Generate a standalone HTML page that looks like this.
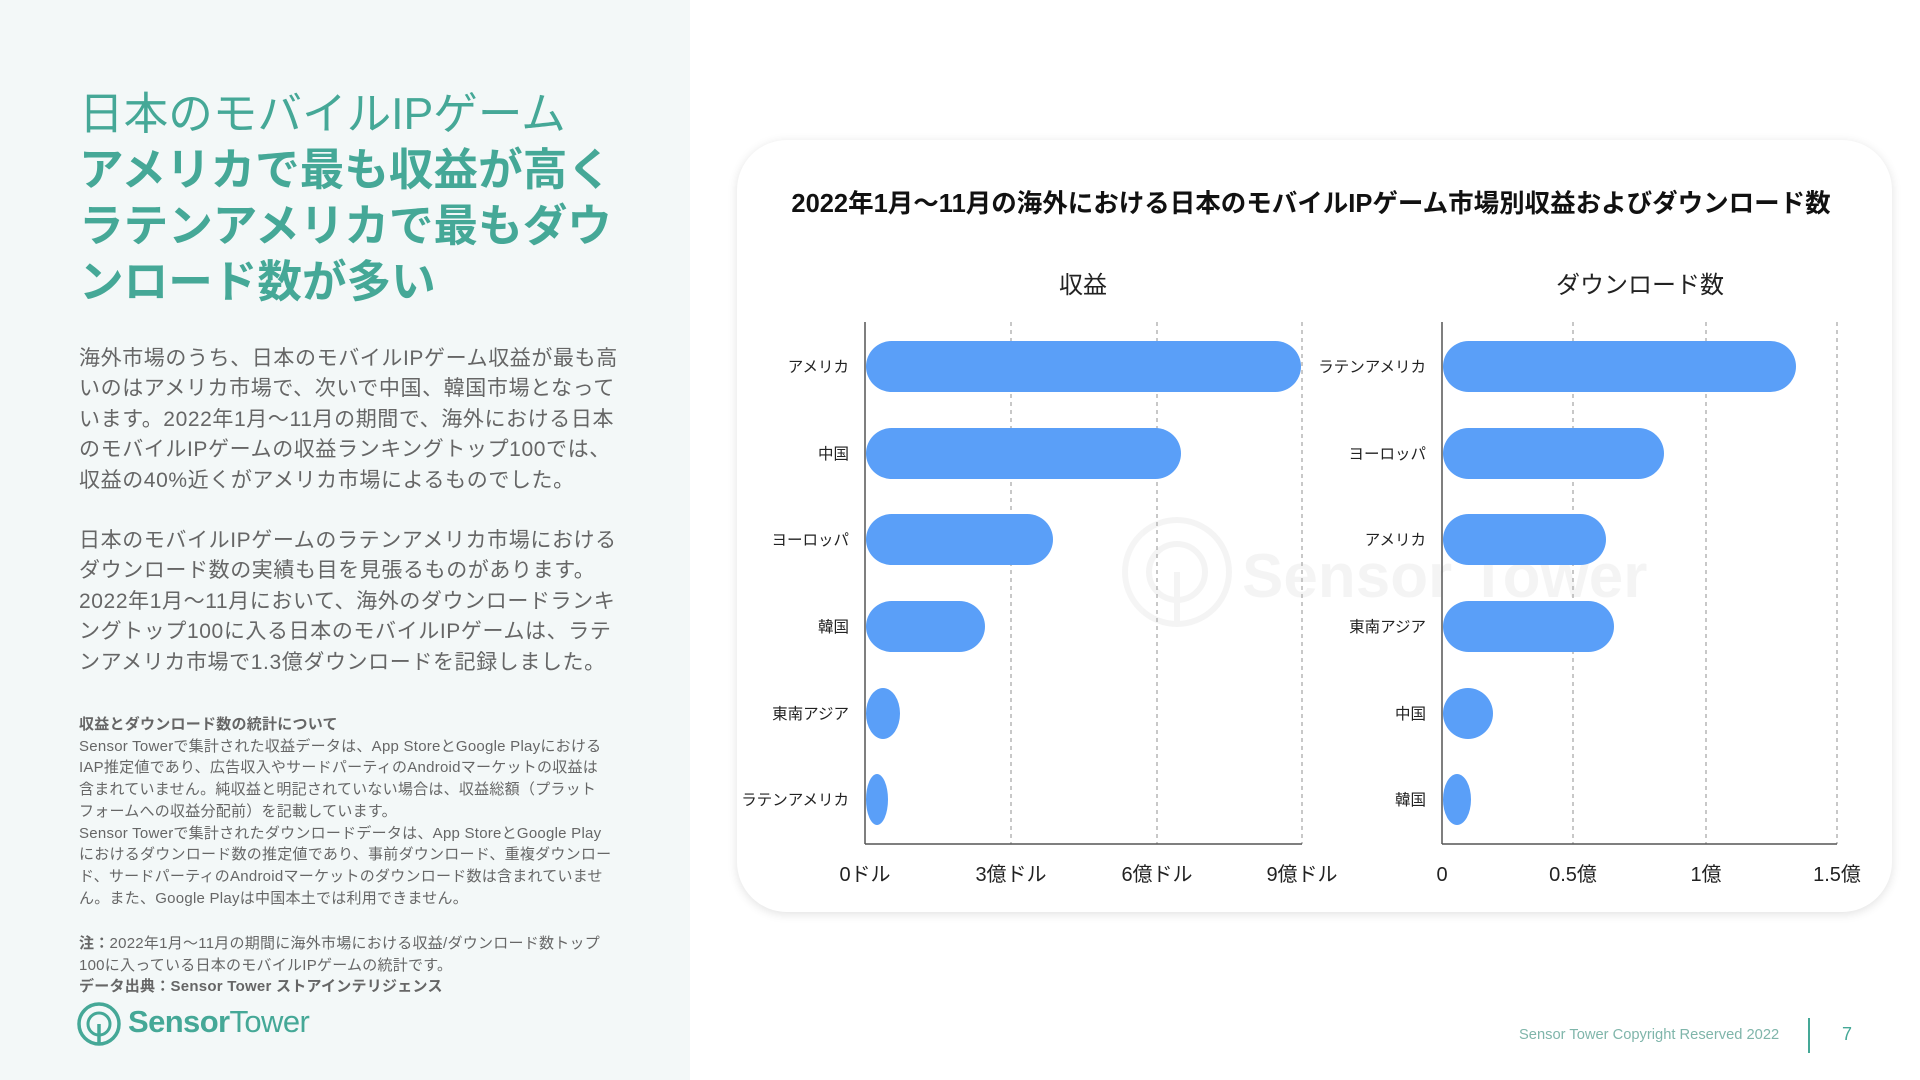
<!DOCTYPE html>
<html><head><meta charset="utf-8"><style>
html,body{margin:0;padding:0;width:1920px;height:1080px;overflow:hidden;background:#fff;font-family:"Liberation Sans","Noto Sans CJK JP",sans-serif;}
#left{position:absolute;left:0;top:0;width:690px;height:1080px;background:#f3f8f8;}
.t{position:absolute;white-space:nowrap;}
.h{color:#45a897;font-size:44.6px;left:79px;line-height:56px;}
.p{color:#666;font-size:21px;left:79px;letter-spacing:0.6px;line-height:30.4px;}
.n{color:#666;font-size:15px;left:79px;line-height:21.7px;letter-spacing:0.25px;}
#card{position:absolute;left:737px;top:140px;width:1155px;height:772px;border-radius:50px;background:#fff;box-shadow:0 2px 10px rgba(0,0,0,0.12);}
</style></head><body>
<div id="left"></div>
<div class="t h" style="top:87px;">日本のモバイルIPゲーム</div>
<div class="t h" style="top:143px;font-weight:bold;">アメリカで最も収益が高く<br>ラテンアメリカで最もダウ<br>ンロード数が多い</div>
<div class="t p" style="top:344px;">海外市場のうち、日本のモバイルIPゲーム収益が最も高<br>いのはアメリカ市場で、次いで中国、韓国市場となって<br>います。2022年1月～11月の期間で、海外における日本<br>のモバイルIPゲームの収益ランキングトップ100では、<br>収益の40%近くがアメリカ市場によるものでした。</div>
<div class="t p" style="top:526px;">日本のモバイルIPゲームのラテンアメリカ市場における<br>ダウンロード数の実績も目を見張るものがあります。<br>2022年1月～11月において、海外のダウンロードランキ<br>ングトップ100に入る日本のモバイルIPゲームは、ラテ<br>ンアメリカ市場で1.3億ダウンロードを記録しました。</div>
<div class="t n" style="top:714px;"><b>収益とダウンロード数の統計について</b><br>Sensor Towerで集計された収益データは、App StoreとGoogle Playにおける<br>IAP推定値であり、広告収入やサードパーティのAndroidマーケットの収益は<br>含まれていません。純収益と明記されていない場合は、収益総額（プラット<br>フォームへの収益分配前）を記載しています。<br>Sensor Towerで集計されたダウンロードデータは、App StoreとGoogle Play<br>におけるダウンロード数の推定値であり、事前ダウンロード、重複ダウンロー<br>ド、サードパーティのAndroidマーケットのダウンロード数は含まれていませ<br>ん。また、Google Playは中国本土では利用できません。</div>
<div class="t n" style="top:933px;"><b>注：</b>2022年1月～11月の期間に海外市場における収益/ダウンロード数トップ<br>100に入っている日本のモバイルIPゲームの統計です。<br><b>データ出典：Sensor Tower ストアインテリジェンス</b></div>
<svg class="t" style="left:76px;top:1000px;" width="50" height="50" viewBox="0 0 50 50"><circle cx="23" cy="24" r="20" fill="none" stroke="#45a897" stroke-width="3.5"/><circle cx="23" cy="24" r="11" fill="none" stroke="#45a897" stroke-width="3"/><line x1="23" y1="24" x2="23" y2="44" stroke="#45a897" stroke-width="3.5"/></svg>
<div class="t" style="left:128px;top:1004px;font-size:31px;color:#45a897;letter-spacing:-0.6px;"><b>Sensor</b>Tower</div>
<div class="t" style="left:1519px;top:1027px;font-size:14.7px;color:#7fb5aa;">Sensor Tower Copyright Reserved 2022</div>
<div class="t" style="left:1808px;top:1018px;width:2px;height:35px;background:#45a897;"></div>
<div class="t" style="left:1842px;top:1024px;font-size:18px;color:#45a897;">7</div>
<div id="card"></div>
<svg class="t" style="left:0;top:0;" width="1920" height="1080" viewBox="0 0 1920 1080" font-family="Liberation Sans, Noto Sans CJK JP, sans-serif">
<text x="1311" y="212" text-anchor="middle" font-size="25.5" font-weight="bold" fill="#111">2022年1月～11月の海外における日本のモバイルIPゲーム市場別収益およびダウンロード数</text>
<text x="1083" y="293" text-anchor="middle" font-size="24" fill="#222">収益</text>
<text x="1640" y="293" text-anchor="middle" font-size="24" fill="#222">ダウンロード数</text>
<g opacity="0.04" fill="none" stroke="#000" stroke-width="6"><circle cx="1177" cy="572" r="52"/><circle cx="1177" cy="572" r="28"/><line x1="1177" y1="572" x2="1177" y2="624"/></g>
<text x="1242" y="597" font-size="62" font-weight="bold" fill="#000" opacity="0.04">Sensor Tower</text>
<g stroke="#aaa" stroke-width="1.3" stroke-dasharray="4,4">
<line x1="1011" y1="322" x2="1011" y2="844"/><line x1="1157" y1="322" x2="1157" y2="844"/><line x1="1302" y1="322" x2="1302" y2="844"/>
<line x1="1573" y1="322" x2="1573" y2="844"/><line x1="1706" y1="322" x2="1706" y2="844"/><line x1="1837" y1="322" x2="1837" y2="844"/>
</g>
<g stroke="#555" stroke-width="1.5"><line x1="865" y1="322" x2="865" y2="844"/><line x1="865" y1="844" x2="1302" y2="844"/><line x1="1442" y1="322" x2="1442" y2="844"/><line x1="1442" y1="844" x2="1837" y2="844"/></g>
<g fill="#5a9ff8">
<rect x="866" y="341" width="435" height="51" rx="25.5"/>
<rect x="866" y="428" width="315" height="51" rx="25.5"/>
<rect x="866" y="514" width="187" height="51" rx="25.5"/>
<rect x="866" y="601" width="119" height="51" rx="25.5"/>
<rect x="866" y="688" width="34" height="51" rx="17" ry="25.5"/>
<rect x="866" y="774" width="22" height="51" rx="11" ry="25.5"/>
<rect x="1443" y="341" width="353" height="51" rx="25.5"/>
<rect x="1443" y="428" width="221" height="51" rx="25.5"/>
<rect x="1443" y="514" width="163" height="51" rx="25.5"/>
<rect x="1443" y="601" width="171" height="51" rx="25.5"/>
<rect x="1443" y="688" width="50" height="51" rx="25" ry="25.5"/>
<rect x="1443" y="774" width="28" height="51" rx="14" ry="25.5"/>
</g>
<g font-size="15.5" fill="#222" text-anchor="end">
<text x="849" y="372">アメリカ</text><text x="849" y="459">中国</text><text x="849" y="545">ヨーロッパ</text><text x="849" y="632">韓国</text><text x="849" y="719">東南アジア</text><text x="849" y="805">ラテンアメリカ</text>
<text x="1426" y="372">ラテンアメリカ</text><text x="1426" y="459">ヨーロッパ</text><text x="1426" y="545">アメリカ</text><text x="1426" y="632">東南アジア</text><text x="1426" y="719">中国</text><text x="1426" y="805">韓国</text>
</g>
<g font-size="20" fill="#222" text-anchor="middle">
<text x="865" y="881">0ドル</text><text x="1011" y="881">3億ドル</text><text x="1157" y="881">6億ドル</text><text x="1302" y="881">9億ドル</text>
<text x="1442" y="881">0</text><text x="1573" y="881">0.5億</text><text x="1706" y="881">1億</text><text x="1837" y="881">1.5億</text>
</g>
</svg>
</body></html>
